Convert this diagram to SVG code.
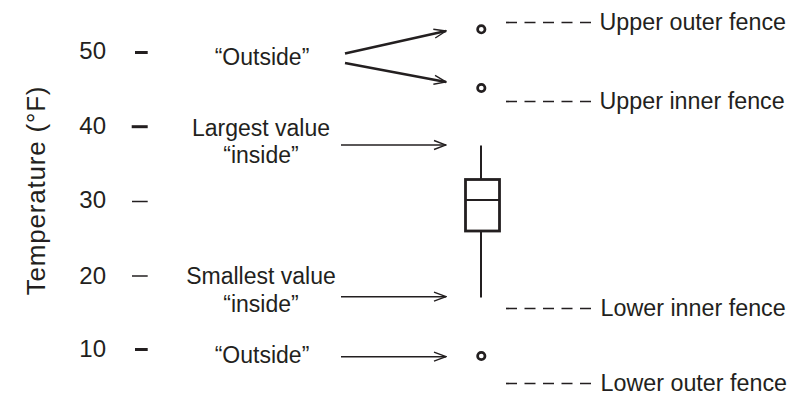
<svg xmlns="http://www.w3.org/2000/svg" width="811" height="405" viewBox="0 0 811 405">
<defs>
<style>
text{font-family:"Liberation Sans",Arial,sans-serif;fill:#231f20;}
.lbl{font-size:23px;text-anchor:middle;}
.num{font-size:24px;text-anchor:end;}
.fence{font-size:23.3px;}
.tick{stroke:#231f20;}
.thick{stroke-width:3;}
.thin{stroke-width:1.5;}
.dash{stroke:#231f20;stroke-width:1.7;stroke-dasharray:11 7.5;fill:none;}
.arr{stroke:#231f20;fill:none;marker-end:url(#ah);}
.pt{fill:#fff;stroke:#231f20;stroke-width:2.7;}
.bx{fill:none;stroke:#231f20;}
</style>
<marker id="ah" viewBox="-13 -6 14 12" refX="0" refY="0" markerWidth="14" markerHeight="12" markerUnits="userSpaceOnUse" orient="auto">
<path d="M-12,-4.5 L0,0 L-12,4.5" fill="none" stroke="#231f20" stroke-width="1.4"/>
</marker>
</defs>
<rect width="811" height="405" fill="#fff"/>
<g id="axis-label">
<text transform="translate(45,190.5) rotate(-90)" style="font-size:26px;text-anchor:middle;letter-spacing:0.8px">Temperature (°F)</text>
</g>
<g id="axis-ticks">
<text class="num" x="106" y="58.5">50</text>
<text class="num" x="106" y="134">40</text>
<text class="num" x="106" y="208">30</text>
<text class="num" x="106" y="283.5">20</text>
<text class="num" x="106" y="357">10</text>
<line class="tick thick" x1="135" y1="52.5" x2="147.7" y2="52.5"/>
<line class="tick thick" x1="131.7" y1="126.7" x2="147.7" y2="126.7"/>
<line class="tick thin" x1="132" y1="201.5" x2="147.7" y2="201.5"/>
<line class="tick thin" x1="132" y1="276" x2="147.7" y2="276"/>
<line class="tick thick" x1="135" y1="349.5" x2="147.7" y2="349.5"/>
</g>
<g id="label-outside-upper"><text class="lbl" x="262" y="65">“Outside”</text></g>
<g id="label-largest"><text class="lbl" x="261" y="136">Largest value</text><text class="lbl" x="261" y="163">“inside”</text></g>
<g id="label-smallest"><text class="lbl" x="261" y="283.5">Smallest value</text><text class="lbl" x="261" y="311.5">“inside”</text></g>
<g id="label-outside-lower"><text class="lbl" x="262" y="362.5">“Outside”</text></g>
<g id="boxplot">
<line class="bx" x1="481" y1="145.5" x2="481" y2="179" stroke-width="2"/>
<line class="bx" x1="481" y1="231" x2="481" y2="297.5" stroke-width="2"/>
<rect class="bx" x="465.5" y="179.5" width="34" height="51.5" stroke-width="2.8"/>
<line class="bx" x1="465.5" y1="200" x2="499.5" y2="200" stroke-width="2"/>
</g>
<g id="outlier-1"><circle class="pt" cx="481.3" cy="29.3" r="3.7"/></g>
<g id="outlier-2"><circle class="pt" cx="481.3" cy="88" r="3.7"/></g>
<g id="outlier-3"><circle class="pt" cx="481.3" cy="356" r="3.7"/></g>
<g id="fence-upper-outer"><line class="dash" x1="506" y1="22.5" x2="591" y2="22.5"/><text class="fence" x="599.5" y="29.5">Upper outer fence</text></g>
<g id="fence-upper-inner"><line class="dash" x1="506" y1="101.5" x2="591" y2="101.5"/><text class="fence" x="599.5" y="108.5">Upper inner fence</text></g>
<g id="fence-lower-inner"><line class="dash" x1="506" y1="308.5" x2="591" y2="308.5"/><text class="fence" x="600.5" y="315.5">Lower inner fence</text></g>
<g id="fence-lower-outer"><line class="dash" x1="506" y1="383.5" x2="591" y2="383.5"/><text class="fence" x="600.5" y="390.5">Lower outer fence</text></g>
<g id="connectors">
<line class="arr" x1="345" y1="53.5" x2="446" y2="31" stroke-width="2.6"/>
<line class="arr" x1="345" y1="63" x2="446" y2="82" stroke-width="2.6"/>
<line class="arr" x1="341" y1="145" x2="446" y2="145" stroke-width="1.6"/>
<line class="arr" x1="341" y1="296.7" x2="446" y2="296.7" stroke-width="1.6"/>
<line class="arr" x1="341" y1="356.7" x2="446" y2="356.7" stroke-width="1.6"/>
</g>
</svg>
